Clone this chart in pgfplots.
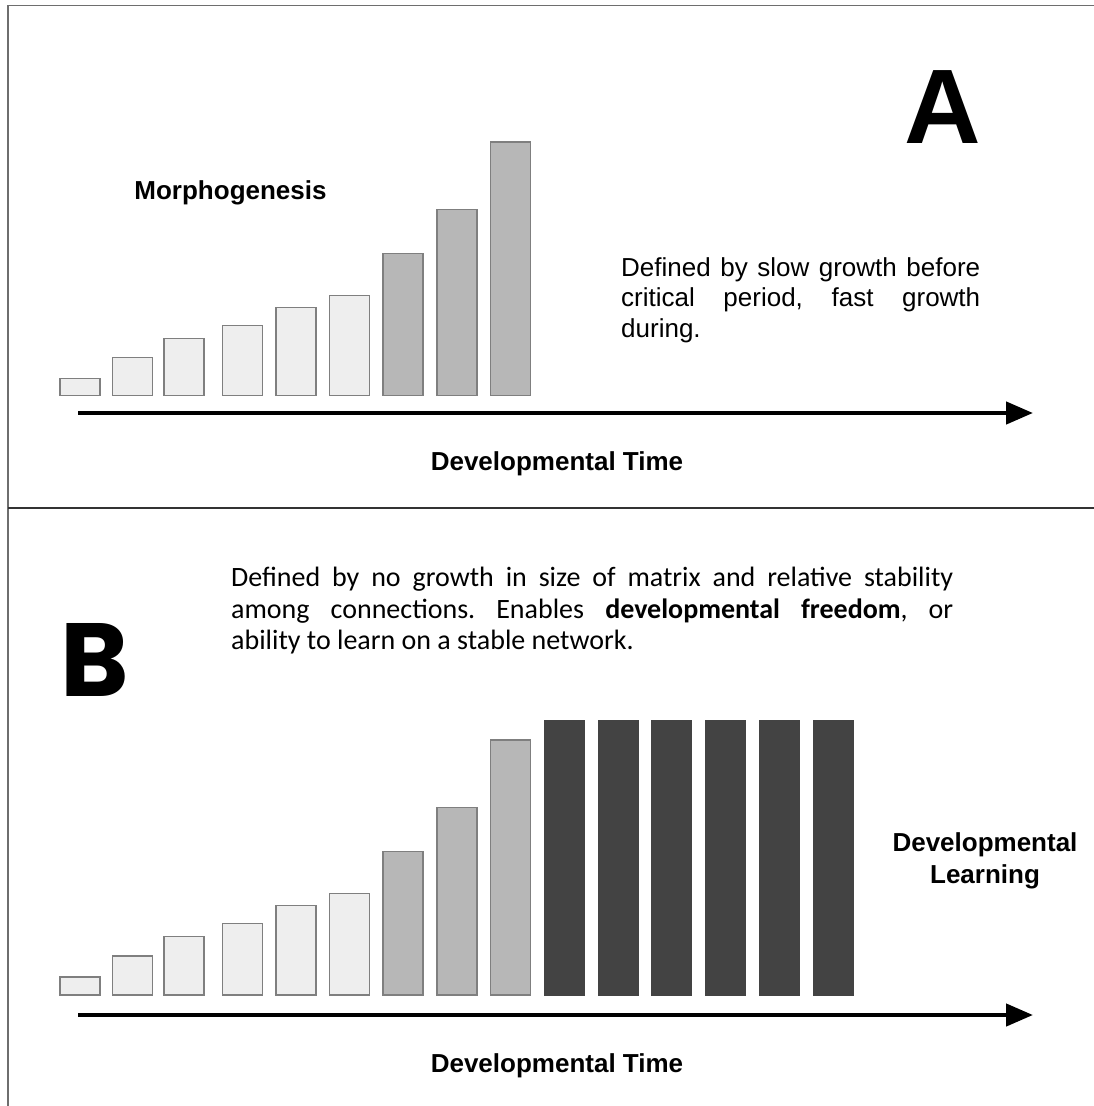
\documentclass[border=0pt]{standalone}
\usepackage{pgfplots}
\pgfplotsset{compat=1.18}
\usepackage{fontspec}
\setmainfont{Liberation Sans}
\newfontfamily\carlito{Carlito}
\newfontfamily\poppins{Poppins}
\usetikzlibrary{arrows.meta}
\frenchspacing

\definecolor{lightbar}{HTML}{EEEEEE}
\definecolor{midbar}{HTML}{B7B7B7}
\definecolor{darkbar}{HTML}{434343}
\definecolor{barline}{HTML}{7F7F7F}
\definecolor{frame}{HTML}{6E6E6E}

\pgfplotsset{
  panel/.style={
    scale only axis, hide axis, clip=false,
    width=1094pt, height=350pt,
    xmin=0, xmax=1094, ymin=0, ymax=350,
  },
  growbar/.style={ybar, bar width=40, bar shift=0pt, draw=barline, line width=1.2pt},
}

\begin{document}
\begin{tikzpicture}
\useasboundingbox (0pt,0pt) rectangle (1094pt,-1106pt);
\fill[white] (0pt,0pt) rectangle (1094pt,-1106pt);

% frame
\draw[frame, line width=1.6pt] (1094pt,-5.5pt) -- (8pt,-5.5pt) -- (8pt,-1106pt);
\draw[black!80, line width=1.4pt] (8pt,-508pt) -- (1094pt,-508pt);

% panel A
\begin{axis}[panel, at={(0pt,-395.3pt)}, anchor=south west]
\addplot[growbar, fill=lightbar] coordinates {
  (80,16.6) (132.5,37.5) (184,57) (242.5,70) (296,87.6) (349.5,100)};
\addplot[growbar, fill=midbar] coordinates {
  (403,141.6) (457,185.6) (510.5,253.3)};
\end{axis}

% panel B
\begin{axis}[panel, at={(0pt,-995pt)}, anchor=south west]
\addplot[growbar, fill=lightbar] coordinates {
  (80,18) (132.5,39) (184,58.7) (242.5,71.7) (296,89.3) (349.5,101.7)};
\addplot[growbar, fill=midbar] coordinates {
  (403,143.3) (457,187.3) (510.5,255)};
\addplot[ybar, bar width=40, bar shift=0pt, fill=darkbar, draw=darkbar, line width=0.5pt] coordinates {
  (564.5,275) (618,275) (671.5,275) (725,275) (779,275) (833,275)};
\end{axis}

% arrows
\draw[line width=4.5pt, -{Triangle[length=27pt,width=22pt]}] (78pt,-413pt) -- (1033pt,-413pt);
\draw[line width=4.5pt, -{Triangle[length=27pt,width=22pt]}] (78pt,-1015pt) -- (1033pt,-1015pt);

% labels
\begin{scope}[every node/.style={inner sep=0pt}]
\node[anchor=base] at (942.5pt,-143pt) {\fontsize{106pt}{106pt}\selectfont\bfseries A};
\node[anchor=base] at (230.5pt,-199pt) {\fontsize{26pt}{31pt}\selectfont\bfseries Morphogenesis};
\node[anchor=base] at (557pt,-470pt) {\fontsize{26pt}{31pt}\selectfont\bfseries Developmental Time};
\node[anchor=base] at (557pt,-1072pt) {\fontsize{26pt}{31pt}\selectfont\bfseries Developmental Time};
\node[anchor=base] at (985pt,-851pt) {\fontsize{26pt}{31pt}\selectfont\bfseries Developmental};
\node[anchor=base] at (985pt,-883pt) {\fontsize{26pt}{31pt}\selectfont\bfseries Learning};

\node[anchor=base west] at (621pt,-276pt) {\fontsize{26pt}{31pt}\selectfont\makebox[359pt][s]{Defined by slow growth before}};
\node[anchor=base west] at (621pt,-306.5pt) {\fontsize{26pt}{31pt}\selectfont\makebox[359pt][s]{critical period, fast growth}};
\node[anchor=base west] at (621pt,-337pt) {\fontsize{26pt}{31pt}\selectfont during.};

\node[anchor=base west] at (60pt,-696pt) {\fontsize{104pt}{104pt}\selectfont\poppins\bfseries B};
\node[anchor=base west] at (231pt,-586pt) {\fontsize{28pt}{32pt}\selectfont\carlito\makebox[722pt][s]{Defined by no growth in size of matrix and relative stability}};
\node[anchor=base west] at (231pt,-618pt) {\fontsize{28pt}{32pt}\selectfont\carlito\makebox[722pt][s]{among connections. Enables \textbf{developmental freedom}, or}};
\node[anchor=base west] at (231pt,-649pt) {\fontsize{28pt}{32pt}\selectfont\carlito ability to learn on a stable network.};
\end{scope}
\end{tikzpicture}
\end{document}
